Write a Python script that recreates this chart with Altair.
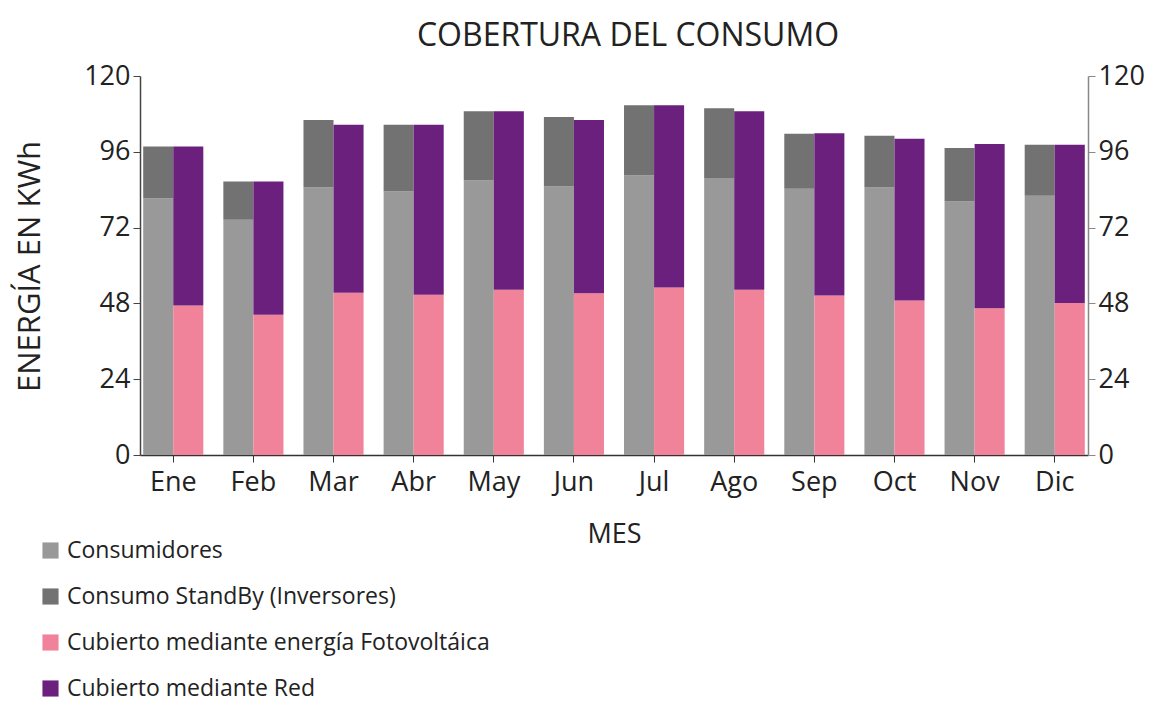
import altair as alt
import pandas as pd

titulo = "COBERTURA DEL CONSUMO"
meses = ["Ene", "Feb", "Mar", "Abr", "May", "Jun", "Jul", "Ago", "Sep", "Oct", "Nov", "Dic"]
# Consumption stack (gray): Consumidores + StandBy
consumidores = [81.3, 74.5, 84.7, 83.4, 86.9, 85.0, 88.5, 87.7, 84.3, 84.7, 80.3, 82.1]
standby = [16.4, 12.1, 21.4, 21.2, 21.9, 22.0, 22.2, 22.1, 17.4, 16.4, 16.9, 16.1]
# Coverage stack: Fotovoltaica + Red
fotovoltaica = [47.3, 44.4, 51.4, 50.7, 52.3, 51.2, 53.0, 52.3, 50.5, 48.9, 46.5, 48.1]
red = [50.4, 42.2, 53.2, 53.9, 56.5, 54.9, 57.7, 56.5, 51.4, 51.2, 52.0, 50.1]

series = [
    "Consumidores",
    "Consumo StandBy (Inversores)",
    "Cubierto mediante energía Fotovoltáica",
    "Cubierto mediante Red",
]
colores = ["#999999", "#727272", "#f0839a", "#6c207d"]
grupos = ["Consumo", "Cobertura"]
y_ticks = [0, 24, 48, 72, 96, 120]

rows = []
for i, m in enumerate(meses):
    rows.append({"mes": m, "grupo": grupos[0], "serie": series[0], "valor": consumidores[i], "orden": 0})
    rows.append({"mes": m, "grupo": grupos[0], "serie": series[1], "valor": standby[i], "orden": 1})
    rows.append({"mes": m, "grupo": grupos[1], "serie": series[2], "valor": fotovoltaica[i], "orden": 0})
    rows.append({"mes": m, "grupo": grupos[1], "serie": series[3], "valor": red[i], "orden": 1})
df = pd.DataFrame(rows)

FONT = "Open Sans"
yscale = alt.Scale(domain=[0, 120], nice=False)

bars = alt.Chart(df).mark_bar().encode(
    x=alt.X(
        "mes:N",
        sort=meses,
        scale=alt.Scale(paddingInner=0.25, paddingOuter=0.04),
        axis=alt.Axis(
            title="MES",
            labelAngle=0,
            labelFont=FONT,
            labelFontSize=27,
            labelColor="#222222",
            labelPadding=7,
            tickSize=7,
            tickColor="#333333",
            domainColor="#333333",
            domainWidth=1.5,
            titleFont=FONT,
            titleFontSize=27,
            titleFontWeight="normal",
            titleColor="#222222",
            titleBaseline="alphabetic",
            titleY=87,
        ),
    ),
    xOffset=alt.XOffset("grupo:N", sort=grupos, scale=alt.Scale(paddingInner=0, paddingOuter=0)),
    y=alt.Y(
        "valor:Q",
        stack="zero",
        scale=yscale,
        axis=alt.Axis(
            orient="left",
            values=y_ticks,
            grid=False,
            title="ENERGÍA EN KWh",
            labelFont=FONT,
            labelFontSize=27,
            labelColor="#222222",
            labelPadding=3,
            tickSize=7,
            tickColor="#444444",
            domainColor="#444444",
            domainWidth=1.5,
            titleFont=FONT,
            titleFontSize=31,
            titleFontWeight="normal",
            titleColor="#222222",
            titleAngle=270,
            titleAlign="center",
            titleBaseline="middle",
            titleX=-110,
            titleY=190,
        ),
    ),
    color=alt.Color(
        "serie:N",
        scale=alt.Scale(domain=series, range=colores),
        legend=alt.Legend(
            title="",
            orient="none",
            legendX=-101,
            legendY=463,
            symbolType="square",
            symbolSize=260,
            symbolStrokeWidth=0,
            labelFont=FONT,
            labelFontSize=23,
            labelColor="#222222",
            labelOffset=5,
            rowPadding=22,
            labelLimit=600,
        ),
    ),
    order=alt.Order("orden:Q"),
)

right_axis = alt.Chart(df).mark_rule(opacity=0).encode(
    y=alt.Y(
        "valor:Q",
        scale=yscale,
        axis=alt.Axis(
            orient="right",
            values=y_ticks,
            grid=False,
            title="",
            labelFont=FONT,
            labelFontSize=27,
            labelColor="#222222",
            labelPadding=3,
            tickSize=7,
            tickColor="#888888",
            domainColor="#888888",
            domainWidth=1.5,
        ),
    ),
)

title_layer = alt.Chart(pd.DataFrame({"t": [titulo]})).mark_text(
    font=FONT,
    fontSize=32,
    color="#222222",
    align="center",
    baseline="alphabetic",
).encode(
    text="t:N",
    x=alt.value(488),
    y=alt.value(-30),
)

chart = (
    alt.layer(bars, right_axis, title_layer)
    .resolve_scale(y="shared")
    .resolve_axis(y="independent")
    .properties(
        width=948,
        height=379,
        autosize=alt.AutoSizeParams(type="none"),
        padding={"left": 132, "top": 68, "right": 61, "bottom": 254},
    )
    .configure_view(stroke=None)
)

chart.save("out.html", embed_options={"renderer": "svg", "actions": False})
